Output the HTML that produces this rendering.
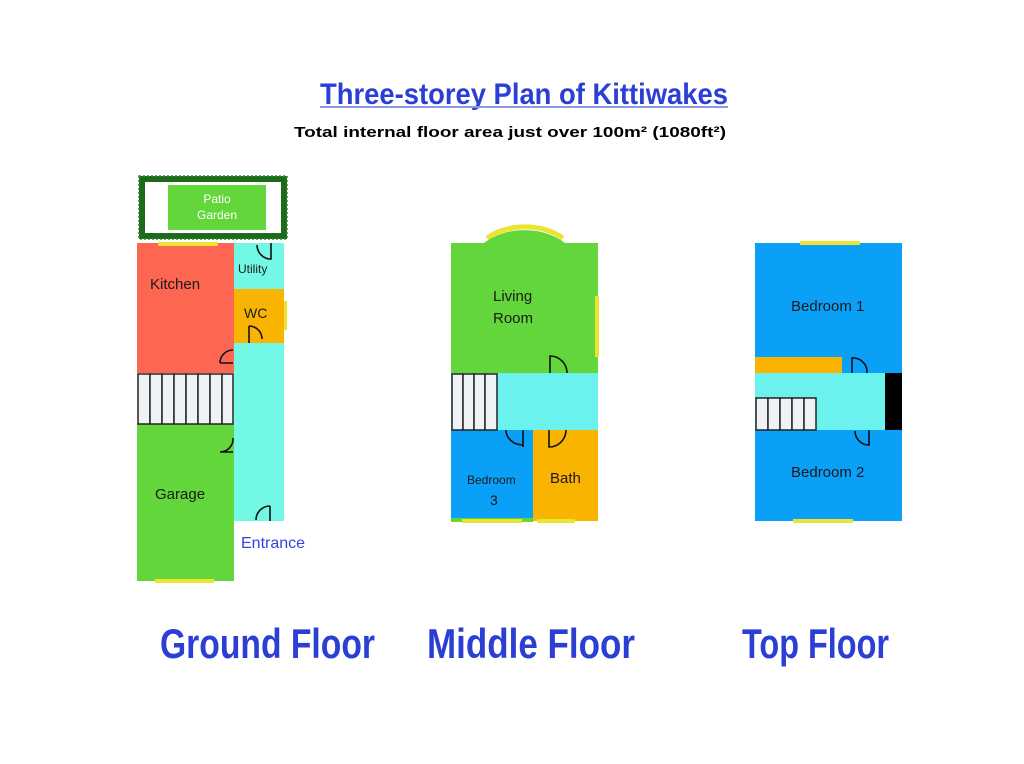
<!DOCTYPE html>
<html><head><meta charset="utf-8"><style>
html,body{margin:0;padding:0;background:#fff;}
svg{display:block;}
.t{font-family:"Liberation Sans Narrow","Liberation Sans",sans-serif;font-weight:bold;fill:#2b3fd4;}
.r{font-family:"Liberation Sans",sans-serif;fill:#1a1a1a;}
.d{fill:none;stroke:#111;stroke-width:1.6;}
.st{fill:#eef2f4;stroke:#222;stroke-width:1.5;}
</style></head><body>
<svg width="1024" height="764" viewBox="0 0 1024 764" xmlns="http://www.w3.org/2000/svg">
<text class="t" x="320" y="104" font-size="30" textLength="408" lengthAdjust="spacingAndGlyphs">Three-storey Plan of Kittiwakes</text>
<rect x="320" y="106" width="408" height="2" fill="#8c9ae6"/>
<text x="294" y="137" font-family="Liberation Sans,sans-serif" font-weight="bold" font-size="15" fill="#000" textLength="432" lengthAdjust="spacingAndGlyphs">Total internal floor area just over 100m² (1080ft²)</text>

<!-- Ground floor -->
<rect x="142" y="179" width="142" height="57" fill="none" stroke="#1d6a1d" stroke-width="6"/>
<rect x="139" y="176" width="148" height="63" fill="none" stroke="#2e8a2e" stroke-width="1.5" stroke-dasharray="2 2"/>
<rect x="168" y="185" width="98" height="45" fill="#62d63a"/>
<text x="217" y="203" font-family="Liberation Sans,sans-serif" font-size="12" fill="#fff" text-anchor="middle">Patio</text>
<text x="217" y="219" font-family="Liberation Sans,sans-serif" font-size="12" fill="#fff" text-anchor="middle">Garden</text>
<rect x="137" y="243" width="97" height="130" fill="#fd6650"/>
<rect x="137" y="424" width="97" height="157" fill="#62d63a"/>
<rect x="234" y="243" width="50" height="46" fill="#74f8e6"/>
<rect x="234" y="289" width="50" height="54" fill="#f8b400"/>
<rect x="234" y="343" width="50" height="178" fill="#74f8e6"/>
<rect x="158" y="242" width="60" height="4" fill="#ece430"/>
<rect x="284" y="301" width="3" height="29" fill="#ece430"/>
<rect x="155" y="579" width="59" height="4" fill="#ece430"/>
<g class="st">
<rect x="138" y="374" width="12" height="50"/><rect x="150" y="374" width="12" height="50"/><rect x="162" y="374" width="12" height="50"/><rect x="174" y="374" width="12" height="50"/><rect x="186" y="374" width="12" height="50"/><rect x="198" y="374" width="12" height="50"/><rect x="210" y="374" width="12" height="50"/><rect x="222" y="374" width="11" height="50"/>
</g>
<path class="d" d="M271 243 V259 A14 14 0 0 1 257 245"/>
<path class="d" d="M249 326 V343 M249 326 A13 13 0 0 1 262 339"/>
<path class="d" d="M233 350 A13 13 0 0 0 220 363 M220 363 H233"/>
<path class="d" d="M233 438 A13 13 0 0 1 220 452 H233" />
<path class="d" d="M270 506 V521 M270 506 A14 14 0 0 0 256 520"/>
<text class="r" x="150" y="289" font-size="15">Kitchen</text>
<text class="r" x="238" y="273" font-size="12">Utility</text>
<text class="r" x="244" y="318" font-size="14">WC</text>
<text class="r" x="155" y="499" font-size="15">Garage</text>
<text x="241" y="548" font-family="Liberation Sans,sans-serif" font-size="16" fill="#3344dd">Entrance</text>

<!-- Middle floor -->
<path d="M484 243 A55 40 0 0 1 565 243 Z" fill="#62d63a"/>
<path d="M487 238 A56 42 0 0 1 563 238" fill="none" stroke="#ece430" stroke-width="5"/>
<rect x="451" y="243" width="147" height="130" fill="#62d63a"/>
<rect x="595" y="296" width="4" height="61" fill="#ece430"/>
<rect x="451" y="373" width="147" height="57" fill="#6cf2ee"/>
<rect x="451" y="430" width="82" height="91" fill="#0aa0f8"/>
<rect x="451" y="518" width="82" height="4" fill="#62d63a"/>
<rect x="533" y="430" width="65" height="91" fill="#f8b400"/>
<rect x="462" y="519" width="60" height="4" fill="#ece430"/>
<rect x="537" y="519" width="38" height="4" fill="#ece430"/>
<g class="st">
<rect x="452" y="374" width="11" height="56"/><rect x="463" y="374" width="11" height="56"/><rect x="474" y="374" width="11" height="56"/><rect x="485" y="374" width="12" height="56"/>
</g>
<path class="d" d="M550 373 V356 A17 17 0 0 1 567 373"/>
<path class="d" d="M523 430 V447 M523 445 A17 15 0 0 1 506 430"/>
<path class="d" d="M549 430 V447 A17 17 0 0 0 566 430"/>
<text class="r" x="493" y="301" font-size="15">Living</text>
<text class="r" x="493" y="323" font-size="15">Room</text>
<text class="r" x="467" y="484" font-size="12">Bedroom</text>
<text class="r" x="490" y="505" font-size="14">3</text>
<text class="r" x="550" y="483" font-size="15">Bath</text>

<!-- Top floor -->
<rect x="755" y="243" width="147" height="278" fill="#0aa0f8"/>
<rect x="800" y="241" width="60" height="4" fill="#ece430"/>
<rect x="793" y="519" width="60" height="4" fill="#ece430"/>
<rect x="755" y="357" width="87" height="16" fill="#f8b400"/>
<rect x="755" y="373" width="130" height="57" fill="#6cf2ee"/>
<rect x="885" y="373" width="17" height="57" fill="#000"/>
<g class="st">
<rect x="756" y="398" width="12" height="32"/><rect x="768" y="398" width="12" height="32"/><rect x="780" y="398" width="12" height="32"/><rect x="792" y="398" width="12" height="32"/><rect x="804" y="398" width="12" height="32"/>
</g>
<path class="d" d="M852 373 V358 A14 14 0 0 1 867 373"/>
<path class="d" d="M869 430 V445 A14 14 0 0 1 855 431"/>
<text class="r" x="791" y="311" font-size="15">Bedroom 1</text>
<text class="r" x="791" y="477" font-size="15">Bedroom 2</text>

<text class="t" x="160" y="658" font-size="42" textLength="215" lengthAdjust="spacingAndGlyphs">Ground Floor</text>
<text class="t" x="427" y="658" font-size="42" textLength="208" lengthAdjust="spacingAndGlyphs">Middle Floor</text>
<text class="t" x="742" y="658" font-size="42" textLength="147" lengthAdjust="spacingAndGlyphs">Top Floor</text>
</svg>
</body></html>
